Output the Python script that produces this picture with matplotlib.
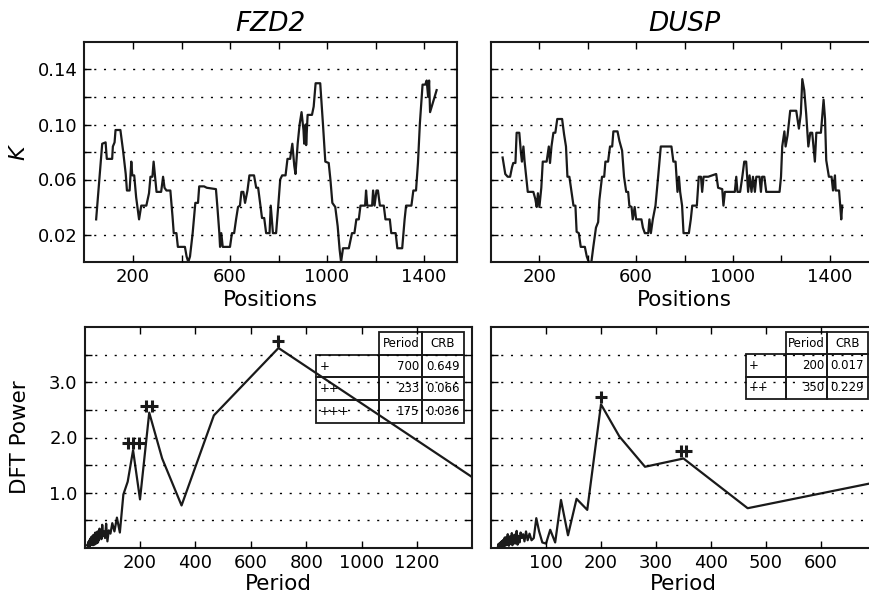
import numpy as np
import matplotlib
matplotlib.use('Agg')
import matplotlib.pyplot as plt
from matplotlib.transforms import ScaledTranslation

# ---------------- data ----------------
titles = ['FZD2', 'DUSP']

fzd2_pos = [48, 73, 87, 92, 114, 117, 124, 128, 148, 159, 170, 175, 186, 193, 197, 205, 213, 225,
            234, 255, 266, 272, 280, 285, 291, 297, 316, 324, 330, 338, 354, 363, 368, 379, 385,
            414, 421, 428, 435, 446, 457, 468, 473, 493, 504, 542, 548, 556, 559, 564, 570, 600,
            608, 617, 625, 633, 641, 647, 655, 662, 672, 680, 699, 708, 716, 724, 732, 741, 749,
            763, 768, 777, 790, 799, 807, 815, 829, 837, 848, 857, 865, 870, 879, 887, 895, 903,
            906, 912, 914, 920, 938, 945, 953, 972, 983, 993, 1007, 1014, 1022, 1034, 1044, 1052,
            1058, 1066, 1090, 1103, 1113, 1121, 1131, 1138, 1157, 1161, 1166, 1186, 1190, 1196,
            1204, 1210, 1218, 1234, 1241, 1259, 1265, 1283, 1290, 1310, 1320, 1326, 1348, 1356,
            1367, 1375, 1383, 1394, 1405, 1411, 1417, 1421, 1425, 1452]
fzd2_K = [0.031, 0.086, 0.087, 0.075, 0.075, 0.084, 0.087, 0.096, 0.096, 0.081, 0.064, 0.052,
          0.052, 0.073, 0.063, 0.063, 0.047, 0.031, 0.041, 0.041, 0.050, 0.062, 0.062, 0.073,
          0.062, 0.051, 0.051, 0.062, 0.054, 0.052, 0.052, 0.033, 0.021, 0.021, 0.011, 0.011,
          0.004, 0.000, 0.004, 0.021, 0.043, 0.043, 0.055, 0.055, 0.054, 0.053, 0.040, 0.021,
          0.011, 0.021, 0.011, 0.011, 0.021, 0.021, 0.031, 0.040, 0.041, 0.051, 0.051, 0.043,
          0.052, 0.063, 0.063, 0.054, 0.054, 0.043, 0.032, 0.032, 0.021, 0.021, 0.041, 0.021,
          0.021, 0.041, 0.060, 0.063, 0.063, 0.075, 0.075, 0.086, 0.070, 0.064, 0.086, 0.100,
          0.109, 0.096, 0.086, 0.100, 0.085, 0.107, 0.107, 0.113, 0.130, 0.130, 0.101, 0.073,
          0.072, 0.060, 0.043, 0.040, 0.026, 0.009, 0.000, 0.010, 0.010, 0.021, 0.021, 0.031,
          0.031, 0.041, 0.041, 0.052, 0.041, 0.041, 0.052, 0.041, 0.052, 0.052, 0.041, 0.041,
          0.031, 0.031, 0.021, 0.021, 0.010, 0.010, 0.031, 0.041, 0.041, 0.052, 0.052, 0.072,
          0.101, 0.129, 0.129, 0.132, 0.120, 0.132, 0.109, 0.125]

dusp_pos = [48, 59, 69, 79, 87, 92, 101, 106, 117, 124, 128, 134, 139, 152, 175, 183, 189, 194,
            200, 208, 214, 230, 239, 244, 250, 258, 266, 274, 294, 302, 310, 316, 324, 332, 341,
            349, 354, 363, 371, 388, 396, 404, 415, 423, 434, 443, 448, 459, 468, 473, 484, 492,
            501, 506, 523, 531, 542, 550, 559, 567, 572, 581, 586, 594, 600, 622, 628, 636, 650,
            655, 661, 669, 680, 691, 702, 746, 754, 763, 771, 777, 782, 790, 796, 818, 826, 832,
            851, 859, 868, 873, 879, 898, 931, 939, 956, 961, 967, 1008, 1014, 1019, 1030, 1039,
            1047, 1055, 1063, 1069, 1077, 1083, 1091, 1097, 1110, 1116, 1121, 1130, 1138, 1193,
            1199, 1204, 1213, 1218, 1226, 1237, 1262, 1273, 1281, 1287, 1295, 1303, 1312, 1320,
            1328, 1339, 1345, 1364, 1375, 1381, 1386, 1397, 1408, 1414, 1422, 1425, 1439, 1444,
            1448, 1452]
dusp_K = [0.076, 0.064, 0.062, 0.062, 0.069, 0.072, 0.072, 0.094, 0.094, 0.079, 0.073, 0.084,
          0.073, 0.051, 0.051, 0.046, 0.040, 0.050, 0.040, 0.054, 0.073, 0.073, 0.084, 0.072,
          0.084, 0.094, 0.094, 0.104, 0.104, 0.093, 0.084, 0.062, 0.062, 0.052, 0.041, 0.041,
          0.022, 0.021, 0.011, 0.011, 0.004, 0.000, 0.000, 0.011, 0.025, 0.029, 0.045, 0.062,
          0.062, 0.073, 0.073, 0.084, 0.084, 0.095, 0.095, 0.088, 0.081, 0.062, 0.051, 0.051,
          0.041, 0.040, 0.031, 0.040, 0.031, 0.031, 0.025, 0.021, 0.021, 0.031, 0.021, 0.031,
          0.041, 0.062, 0.084, 0.084, 0.073, 0.073, 0.051, 0.062, 0.051, 0.041, 0.021, 0.021,
          0.031, 0.041, 0.041, 0.062, 0.062, 0.051, 0.062, 0.062, 0.064, 0.054, 0.053, 0.041,
          0.051, 0.051, 0.062, 0.051, 0.051, 0.062, 0.073, 0.073, 0.051, 0.063, 0.051, 0.062,
          0.051, 0.062, 0.062, 0.051, 0.062, 0.062, 0.051, 0.051, 0.062, 0.084, 0.095, 0.084,
          0.092, 0.110, 0.110, 0.097, 0.108, 0.133, 0.125, 0.108, 0.084, 0.094, 0.094, 0.073,
          0.094, 0.094, 0.118, 0.104, 0.074, 0.062, 0.062, 0.052, 0.063, 0.052, 0.052, 0.040,
          0.031, 0.041]

N_len = 1400
# DFT power for harmonics k = 1, 2, 3, ...  (period = N_len / k)
fzd2_power = [1.28, 3.62, 2.40, 0.77, 1.62, 2.45, 0.88, 1.77, 1.20, 0.97,
              0.28, 0.55, 0.30, 0.45, 0.26, 0.32, 0.12, 0.44, 0.18, 0.30,
              0.22, 0.42, 0.16, 0.28, 0.20, 0.35, 0.14, 0.26, 0.10, 0.30,
              0.18, 0.22, 0.08, 0.25, 0.15, 0.28, 0.12, 0.20, 0.06, 0.22,
              0.18, 0.10, 0.24, 0.14, 0.20, 0.05, 0.22, 0.12, 0.17, 0.08,
              0.21, 0.13, 0.09, 0.19, 0.06, 0.16, 0.11, 0.20, 0.07, 0.15,
              0.10, 0.18, 0.05, 0.14, 0.12, 0.17, 0.06, 0.13, 0.09, 0.16,
              0.04, 0.12, 0.15, 0.07, 0.11, 0.05, 0.14, 0.08, 0.10, 0.03,
              0.13, 0.07, 0.09, 0.12, 0.04, 0.10, 0.06, 0.11, 0.03, 0.09,
              0.07, 0.12, 0.05, 0.08, 0.10, 0.04, 0.09, 0.06, 0.08, 0.03,
              0.07, 0.10, 0.04, 0.06, 0.09, 0.05, 0.08, 0.03, 0.07, 0.05,
              0.09, 0.04, 0.06, 0.08, 0.03, 0.05, 0.07, 0.04, 0.06, 0.02]
# DUSP harmonics start at k = 2
dusp_power = [1.19, 0.72, 1.62, 1.47, 2.02, 2.60, 0.69, 0.89, 0.23,
              0.87, 0.10, 0.33, 0.08, 0.10, 0.30, 0.54, 0.18, 0.14, 0.26,
              0.14, 0.30, 0.12, 0.25, 0.18, 0.28, 0.10, 0.22, 0.06, 0.31,
              0.15, 0.08, 0.24, 0.12, 0.20, 0.05, 0.27, 0.10, 0.16, 0.07,
              0.21, 0.12, 0.04, 0.18, 0.09, 0.25, 0.06, 0.14, 0.11, 0.20,
              0.05, 0.16, 0.09, 0.13, 0.04, 0.19, 0.08, 0.12, 0.06, 0.15,
              0.10, 0.03, 0.14, 0.07, 0.11, 0.05, 0.13, 0.08, 0.04, 0.10,
              0.06, 0.12, 0.03, 0.09, 0.05, 0.11, 0.07, 0.04, 0.08, 0.06,
              0.10, 0.03, 0.07, 0.05, 0.09, 0.04, 0.06, 0.08, 0.02, 0.06,
              0.04, 0.07, 0.03, 0.05, 0.08, 0.04, 0.06, 0.03, 0.05, 0.02,
              0.06, 0.04, 0.05, 0.03, 0.07, 0.04, 0.05, 0.02, 0.04, 0.03]

fzd2_peak_k = [2, 6, 8]
dusp_peak_k = [7, 4]

table_cols = ['', 'Period', 'CRB']
fzd2_table = [['+', '700', '0.649'], ['++', '233', '0.066'], ['+++', '175', '0.036']]
dusp_table = [['+', '200', '0.017'], ['++', '350', '0.229']]

top_xticks = [200, 400, 600, 800, 1000, 1200, 1400]
top_xticklabels = ['200', '', '600', '', '1000', '', '1400']
top_yticks = [0.02, 0.04, 0.06, 0.08, 0.10, 0.12, 0.14]
top_yticklabels = ['0.02', '', '0.06', '', '0.10', '', '0.14']
bl_xticks = [200, 400, 600, 800, 1000, 1200]
br_xticks = [100, 200, 300, 400, 500, 600]
bot_yticks = [0.5, 1.0, 1.5, 2.0, 2.5, 3.0, 3.5]
bot_yticklabels = ['', '1.0', '', '2.0', '', '3.0', '']

# ---------------- figure ----------------
W, H = 870, 598
fig = plt.figure(figsize=(W / 100, H / 100), dpi=100)

def px_axes(l, r, t, b):
    return fig.add_axes([l / W, (H - b) / H, (r - l) / W, (b - t) / H])

ax_tl = px_axes(84.5, 457, 42, 262)
ax_tr = px_axes(491, 878, 42, 262)
ax_bl = px_axes(84.6, 472.4, 327, 548)
ax_br = px_axes(491, 876, 327, 548)

LW = 1.6
INK = '#1a1a1a'
grid_style = dict(color='black', linestyle=(0, (1.5, 5.5)), linewidth=1.0)

def style(ax):
    for s in ax.spines.values():
        s.set_linewidth(1.5)
        s.set_color(INK)
    ax.tick_params(direction='in', top=True, right=True, length=5, width=1,
                   labelsize=13)
    ax.tick_params(axis='x', pad=4)
    ax.tick_params(axis='y', pad=5)
    ax.yaxis.grid(True, **grid_style)
    ax.set_axisbelow(False)

# top panels
for ax, pos, K, title in [(ax_tl, fzd2_pos, fzd2_K, titles[0]),
                          (ax_tr, dusp_pos, dusp_K, titles[1])]:
    ax.plot(pos, K, color=INK, lw=LW)
    style(ax)
    ax.set_ylim(0, 0.16)
    ax.set_xticks(top_xticks)
    ax.set_xticklabels(top_xticklabels)
    ax.set_yticks(top_yticks)
    ax.set_title(title, fontsize=19, style='italic', pad=8)
    ax.set_xlabel('Positions', fontsize=15.5, labelpad=3)

ax_tl.set_xlim(0, 1536)
ax_tr.set_xlim(0, 1600)
ax_tl.set_yticklabels(top_yticklabels)
ax_tr.set_yticklabels([])
ax_tl.set_ylabel('$K$', fontsize=16)
ax_tl.yaxis.set_label_coords(-0.15, 0.5)

# bottom panels
fzd2_periods = N_len / np.arange(1, len(fzd2_power) + 1)
dusp_periods = N_len / np.arange(2, len(dusp_power) + 2)

ax_bl.plot(fzd2_periods, fzd2_power, color=INK, lw=LW)
ax_br.plot(dusp_periods, dusp_power, color=INK, lw=LW)

for ax in (ax_bl, ax_br):
    style(ax)
    ax.set_ylim(0, 4)
    ax.set_yticks(bot_yticks)
    ax.set_xlabel('Period', fontsize=15.5, labelpad=2)

ax_bl.set_xlim(0, 1400)
ax_br.set_xlim(0, 700)
ax_bl.set_xticks(bl_xticks)
ax_br.set_xticks(br_xticks)
ax_bl.set_yticklabels(bot_yticklabels)
ax_br.set_yticklabels([])
ax_bl.set_ylabel('DFT Power', fontsize=15.5)
ax_bl.yaxis.set_label_coords(-0.14, 0.5)

# peak markers
def mark_peaks(ax, periods, power, ks, k0):
    for n, k in enumerate(ks, start=1):
        x = periods[k - k0]
        y = power[k - k0]
        for i in range(n):
            dx = (i - (n - 1) / 2) * 0.055
            tr = ax.transData + ScaledTranslation(dx, 0.07, fig.dpi_scale_trans)
            ax.plot([x], [y], marker='+', ms=8, mew=2.2, color=INK,
                    transform=tr, clip_on=False)

mark_peaks(ax_bl, fzd2_periods, fzd2_power, fzd2_peak_k, 1)
mark_peaks(ax_br, dusp_periods, dusp_power, dusp_peak_k, 2)

# tables
def add_table(ax, rows, bbox, widths):
    tb = ax.table(cellText=rows, colLabels=table_cols, bbox=bbox,
                  colWidths=widths)
    tb.auto_set_font_size(False)
    tb.set_fontsize(8.5)
    locs = {0: 'left', 1: 'right', 2: 'center'}
    for (r, c), cell in tb.get_celld().items():
        cell.set_facecolor('none')
        cell.set_linewidth(1.3)
        cell.set_edgecolor(INK)
        loc = locs[c]
        if r == 0 and c == 1:
            loc = 'right'
        cell._loc = loc
        cell.get_text().set_horizontalalignment(loc)
        cell.PAD = 0.06
    tb[0, 0].visible_edges = ''
    tb[0, 0].get_text().set_text('')
    return tb

add_table(ax_bl, fzd2_table, [0.597, 0.566, 0.381, 0.411], [63, 43, 42])
add_table(ax_br, dusp_table, [0.662, 0.674, 0.317, 0.303], [40, 41, 41])

fig.savefig('out.png', dpi=100)
